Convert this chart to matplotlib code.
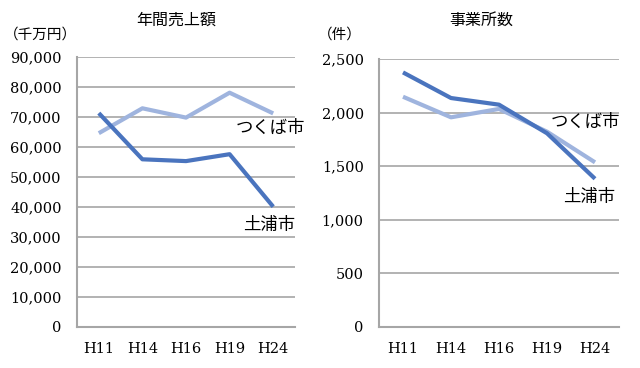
import matplotlib
matplotlib.use('Agg')
from matplotlib import pyplot as plt
from matplotlib.ticker import FuncFormatter

plt.rcParams['font.family'] = ['Noto Sans CJK JP', 'DejaVu Sans']

years = ['H11', 'H14', 'H16', 'H19', 'H24']

# 年間売上額 (千万円)
sales_tsuchiura = [71300, 55900, 55300, 57600, 40100]
sales_tsukuba = [64600, 72900, 69800, 78100, 71200]

# 事業所数 (件)
count_tsuchiura = [2375, 2136, 2074, 1807, 1383]
count_tsukuba = [2148, 1956, 2034, 1822, 1536]

DARK = '#4A74BE'
LIGHT = '#9FB4DE'
GRID = '#A6A6A6'
SERIF = 'DejaVu Serif'

fig = plt.figure(figsize=(6.4, 3.68), dpi=100)
ax1 = fig.add_axes([77 / 640, 1 - 327 / 368, 218 / 640, 270 / 368])
ax2 = fig.add_axes([379 / 640, 1 - 327 / 368, 240 / 640, 268 / 368])


def style(ax, ymax, step):
    ax.set_xlim(-0.5, len(years) - 0.5)
    ax.set_ylim(0, ymax)
    ax.set_yticks(range(0, ymax + 1, step))
    ax.yaxis.set_major_formatter(FuncFormatter(lambda v, p: f'{int(v):,}'))
    ax.set_xticks(range(len(years)))
    ax.set_xticklabels(years)
    for lab in ax.get_xticklabels() + ax.get_yticklabels():
        lab.set_fontfamily(SERIF)
        lab.set_fontsize(10.5)
    ax.tick_params(axis='y', length=0, pad=11)
    ax.tick_params(axis='x', length=0, pad=11)
    ax.grid(axis='y', color=GRID, lw=1.2)
    ax.set_axisbelow(True)
    for s in ['top', 'right']:
        ax.spines[s].set_visible(False)
    for s in ['left', 'bottom']:
        ax.spines[s].set_color(GRID)
        ax.spines[s].set_linewidth(1.5)


x = range(len(years))
ax1.plot(x, sales_tsukuba, color=LIGHT, lw=3, solid_capstyle='butt', clip_on=False)
ax1.plot(x, sales_tsuchiura, color=DARK, lw=3, solid_capstyle='butt', clip_on=False)
style(ax1, 90000, 10000)
ax1.text(4.73, 66500, 'つくば市', ha='right', va='center', fontsize=12.5)
ax1.text(4.5, 34000, '土浦市', ha='right', va='center', fontsize=12.5)

ax2.plot(x, count_tsukuba, color=LIGHT, lw=3, solid_capstyle='butt', clip_on=False)
ax2.plot(x, count_tsuchiura, color=DARK, lw=3, solid_capstyle='butt', clip_on=False)
style(ax2, 2500, 500)
ax2.text(4.52, 1912, 'つくば市', ha='right', va='center', fontsize=12.5)
ax2.text(4.42, 1213, '土浦市', ha='right', va='center', fontsize=12.5)

fig.text(176 / 640, 1 - 20 / 368, '年間売上額', ha='center', va='center', fontsize=11.5)
fig.text(481 / 640, 1 - 20 / 368, '事業所数', ha='center', va='center', fontsize=11.5)
fig.text(4 / 640, 1 - 35 / 368, '（千万円）', ha='left', va='center', fontsize=10.5)
fig.text(318 / 640, 1 - 35 / 368, '（件）', ha='left', va='center', fontsize=10.5)

fig.savefig('out.png', dpi=100)
